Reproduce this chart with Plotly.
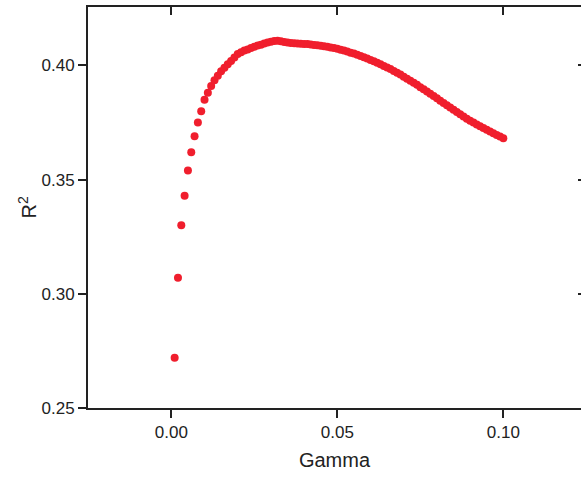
import plotly.graph_objects as go

# Gamma values 0.001 .. 0.100
gamma = [round(0.001 * i, 3) for i in range(1, 101)]
r2 = [
    0.2720, 0.3070, 0.3300, 0.3430, 0.3540, 0.3620, 0.3690, 0.3750, 0.3800, 0.3850,
    0.3880, 0.3910, 0.3935, 0.3955, 0.3975, 0.3990, 0.4005, 0.4020, 0.4035, 0.4050,
    0.4058, 0.4065, 0.4070, 0.4077, 0.4082, 0.4087, 0.4091, 0.4096, 0.4100, 0.4104,
    0.4107, 0.4108, 0.4106, 0.4103, 0.4100, 0.4098, 0.4097, 0.4096, 0.4095, 0.4094,
    0.4094, 0.4092, 0.4090, 0.4088, 0.4086, 0.4084, 0.4082, 0.4079, 0.4076, 0.4073,
    0.4069, 0.4065, 0.4061, 0.4056, 0.4052, 0.4047, 0.4041, 0.4036, 0.4030, 0.4024,
    0.4018, 0.4012, 0.4005, 0.3998, 0.3991, 0.3984, 0.3976, 0.3968, 0.3960, 0.3951,
    0.3942, 0.3933, 0.3924, 0.3915, 0.3905, 0.3896, 0.3886, 0.3876, 0.3866, 0.3856,
    0.3846, 0.3836, 0.3826, 0.3816, 0.3806, 0.3796, 0.3786, 0.3776, 0.3767, 0.3758,
    0.3750, 0.3742, 0.3734, 0.3726, 0.3718, 0.3711, 0.3703, 0.3696, 0.3689, 0.3681,
]

x_ticks = [0.0, 0.05, 0.10]
y_ticks = [0.25, 0.30, 0.35, 0.40]
x_range = [-0.0251, 0.1234]
y_range = [0.25, 0.4256]
x_title = "Gamma"
y_title = "R<sup>2</sup>"

AX = "#222222"
FONT = "Liberation Sans, Arial, sans-serif"

fig = go.Figure()
fig.add_trace(go.Scatter(
    x=gamma, y=r2, mode="markers",
    marker=dict(color="#f01e2d", size=8, line=dict(width=0)),
    showlegend=False,
))
# invisible trace to carry the mirrored (top/right) axes
fig.add_trace(go.Scatter(
    x=gamma, y=r2, mode="markers", xaxis="x2", yaxis="y2",
    marker=dict(opacity=0), hoverinfo="skip", showlegend=False,
))

fig.update_layout(
    width=581, height=477,
    margin=dict(l=88, r=0, t=7, b=69),
    paper_bgcolor="white", plot_bgcolor="white",
    font=dict(family=FONT, color=AX, size=17),
    xaxis=dict(
        range=x_range, tickvals=x_ticks, tickformat=".2f",
        showline=True, linecolor=AX, linewidth=2, mirror=True,
        ticks="outside", ticklen=8, tickwidth=2, tickcolor=AX,
        showgrid=False, zeroline=False,
        tickfont=dict(size=17, family=FONT, color=AX),
        title=dict(text=x_title, font=dict(size=20, family=FONT, color=AX), standoff=12),
    ),
    yaxis=dict(
        range=y_range, tickvals=y_ticks, tickformat=".2f",
        showline=True, linecolor=AX, linewidth=2, mirror=False,
        ticks="outside", ticklen=8, tickwidth=2, tickcolor=AX,
        showgrid=False, zeroline=False,
        tickfont=dict(size=17, family=FONT, color=AX),
    ),
    xaxis2=dict(
        overlaying="x", side="top", range=x_range, tickvals=x_ticks,
        showticklabels=False, showline=False, showgrid=False, zeroline=False,
        ticks="inside", ticklen=8, tickwidth=2, tickcolor=AX,
    ),
    yaxis2=dict(
        overlaying="y", side="right", range=y_range, tickvals=y_ticks,
        showticklabels=False, showline=False, showgrid=False, zeroline=False,
        ticks="inside", ticklen=3, tickwidth=2, tickcolor=AX,
    ),
    annotations=[dict(
        text=y_title, textangle=-90, showarrow=False,
        xref="paper", yref="paper", x=(27 - 88) / 493, y=0.5,
        xanchor="center", yanchor="middle",
        font=dict(size=20, family=FONT, color=AX),
    )],
)

fig.write_html(
    "out.html",
    config={"displayModeBar": False},
    post_script="document.body.style.margin='0';document.body.style.overflow='hidden';",
)
